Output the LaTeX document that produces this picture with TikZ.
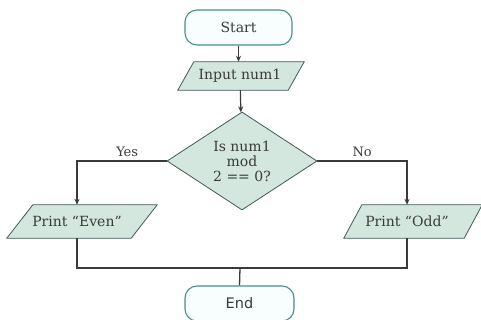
\documentclass[tikz,border=0pt]{standalone}
\usepackage{fontspec}
\setmainfont{DejaVu Serif}
\newfontfamily\termfont{DejaVu Sans}
\usetikzlibrary{arrows.meta,calc,shapes.geometric,backgrounds}
\definecolor{boxfill}{HTML}{D4E7DF}
\definecolor{boxline}{HTML}{3E5B57}
\definecolor{termline}{HTML}{4A8E8B}
\definecolor{termfill}{HTML}{F8FDFD}
\definecolor{ink}{HTML}{3A3A3A}
\begin{document}
\begin{tikzpicture}[x=1pt,y=-1pt,
  font=\fontsize{14}{14}\selectfont, text=ink,
  term/.style={draw=termline, fill=termfill, rounded corners=12pt,
    line width=1.1pt, minimum width=107pt, minimum height=35pt, inner sep=0pt},
  io/.style={minimum height=33pt, inner sep=0pt},
  iobody/.style={draw=boxline, fill=boxfill, line width=0.8pt},
  decision/.style={diamond, draw=boxline, fill=boxfill, line width=0.8pt,
    aspect=1.53, minimum width=150pt, minimum height=98pt, inner sep=0pt,
    align=center, font=\fontsize{14}{15}\selectfont},
  flow/.style={draw=ink, line width=1.2pt, -{Stealth[length=6pt,width=5pt]}},
  merge/.style={draw=ink, line width=2.2pt},
  branch/.style={font=\fontsize{13}{14}\selectfont}
]
\useasboundingbox (0,0) rectangle (481,320);

% terminals, input/output boxes and the test
\node[term] (start) at (238.5,27.5) {Start};
\node[io, minimum width=110pt, minimum height=28pt] (in) at (240,76) {Input num1};
\node[decision] (test) at (242,161) {Is num1\\mod\\2 == 0?};
\node[io, minimum width=124pt] (even) at (77,221.5) {Print “Even”};
\node[io, minimum width=120pt] (odd) at (407,221.5) {Print “Odd”};
\node[term, minimum width=109pt, font=\termfont\fontsize{14.5}{14}\selectfont] (end) at (239.5,303.5) {End};

% slanted bodies of the input/output boxes
\begin{pgfonlayer}{background}
\fill[white] (0,0) rectangle (481,320);
\foreach \n/\s/\d in {in/8/1, even/13/5, odd/9/6}{
  \filldraw[iobody]
    ($(\n.south west)+(-\s+\d,0)$) -- ($(\n.north west)+(\s+\d,0)$) --
    ($(\n.north east)+(\s+\d,0)$) -- ($(\n.south east)+(-\s+\d,0)$) -- cycle;
}
\end{pgfonlayer}

% connectors
\draw[flow] (start) -- (start |- in.north);
\draw[flow] (in) -- (test);
\draw[flow] (test.west) -| node[branch, pos=0.22, above=0pt] {Yes} (even.north);
\draw[flow] (test.east) -| node[branch, pos=0.25, above=0pt] {No} (odd.north);

\coordinate (join) at (240,268);
\draw[merge] (even.south) |- (join) -| (odd.south);
\draw[draw=ink, line width=1.3pt] (join) -- (end.north);
\end{tikzpicture}
\end{document}
